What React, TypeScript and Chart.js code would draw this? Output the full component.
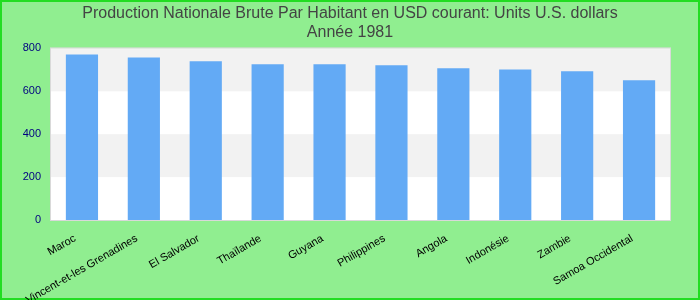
import React, { useEffect, useRef } from "react";
import { Chart, registerables } from "chart.js";

Chart.register(...registerables);

const categories = [
  "Maroc",
  "Vincent-et-les Grenadines",
  "El Salvador",
  "Thaïlande",
  "Guyana",
  "Philippines",
  "Angola",
  "Indonésie",
  "Zambie",
  "Samoa Occidental",
];
const values = [772, 758, 740, 726, 726, 721, 707, 702, 693, 651];
const yTicks = [0, 200, 400, 600, 800];
const titleLines = [
  "Production Nationale Brute Par Habitant en USD courant: Units U.S. dollars",
  "Année 1981",
];

const FONT = "Arial, 'Liberation Sans', sans-serif";

const bgPlugin = {
  id: "bgBands",
  beforeDraw(chart: any) {
    const { ctx, width, height, chartArea } = chart;
    ctx.save();
    ctx.fillStyle = "#90EE90";
    ctx.fillRect(0, 0, width, height);
    ctx.strokeStyle = "#22dd22";
    ctx.lineWidth = 2;
    ctx.strokeRect(1, 1, width - 2, height - 2);
    ctx.fillStyle = "#ffffff";
    ctx.fillRect(
      chartArea.left,
      chartArea.top,
      chartArea.right - chartArea.left,
      chartArea.bottom - chartArea.top
    );
    const y = chart.scales.y;
    for (let i = 0; i < yTicks.length - 1; i++) {
      if (i % 2 === 1) {
        const top = y.getPixelForValue(yTicks[i + 1]);
        const bot = y.getPixelForValue(yTicks[i]);
        ctx.fillStyle = "#f2f2f2";
        ctx.fillRect(chartArea.left, top, chartArea.right - chartArea.left, bot - top);
      }
    }
    ctx.strokeStyle = "#d9d9d9";
    ctx.lineWidth = 1;
    ctx.strokeRect(
      chartArea.left - 0.5,
      chartArea.top - 0.5,
      chartArea.right - chartArea.left + 1,
      chartArea.bottom - chartArea.top + 1
    );
    ctx.restore();
  },
};

export default function App() {
  const ref = useRef<HTMLCanvasElement | null>(null);
  useEffect(() => {
    document.body.style.margin = "0";
    if (!ref.current) return;
    const chart = new Chart(ref.current, {
      type: "bar",
      data: {
        labels: categories,
        datasets: [
          {
            data: values,
            backgroundColor: "#63aaf5",
            borderWidth: 0,
            barPercentage: 0.52,
            categoryPercentage: 1,
          },
        ],
      },
      options: {
        animation: false,
        responsive: false,
        layout: { padding: { left: 0, right: 0, top: 0, bottom: 0 } },
        plugins: {
          legend: { display: false },
          tooltip: { enabled: false },
          title: {
            display: true,
            text: titleLines,
            color: "#444444",
            font: { size: 16, family: FONT, weight: "normal" as any, lineHeight: 1.2 },
            padding: { top: 4, bottom: 6 },
          },
        },
        scales: {
          x: {
            grid: { display: false, drawTicks: false },
            border: { display: false },
            ticks: {
              autoSkip: false,
              minRotation: 30,
              maxRotation: 30,
              color: "#000000",
              font: { size: 11, family: FONT },
              padding: 12,
              labelOffset: -7,
            },
            afterFit(scale: any) {
              scale.height = 80;
              scale.paddingLeft = 0;
              scale.paddingRight = 30;
            },
          },
          y: {
            min: 0,
            max: 800,
            grid: { display: false, drawTicks: false },
            border: { display: false },
            ticks: {
              stepSize: 200,
              color: "#000080",
              font: { size: 11, family: FONT },
              padding: 10,
            },
            afterFit(scale: any) {
              scale.width = 51;
              scale.paddingTop = 0;
              scale.paddingBottom = 0;
            },
          },
        },
      },
      plugins: [bgPlugin],
    });
    return () => chart.destroy();
  }, []);
  return (
    <canvas ref={ref} width={700} height={300} style={{ display: "block", width: 700, height: 300 }} />
  );
}
